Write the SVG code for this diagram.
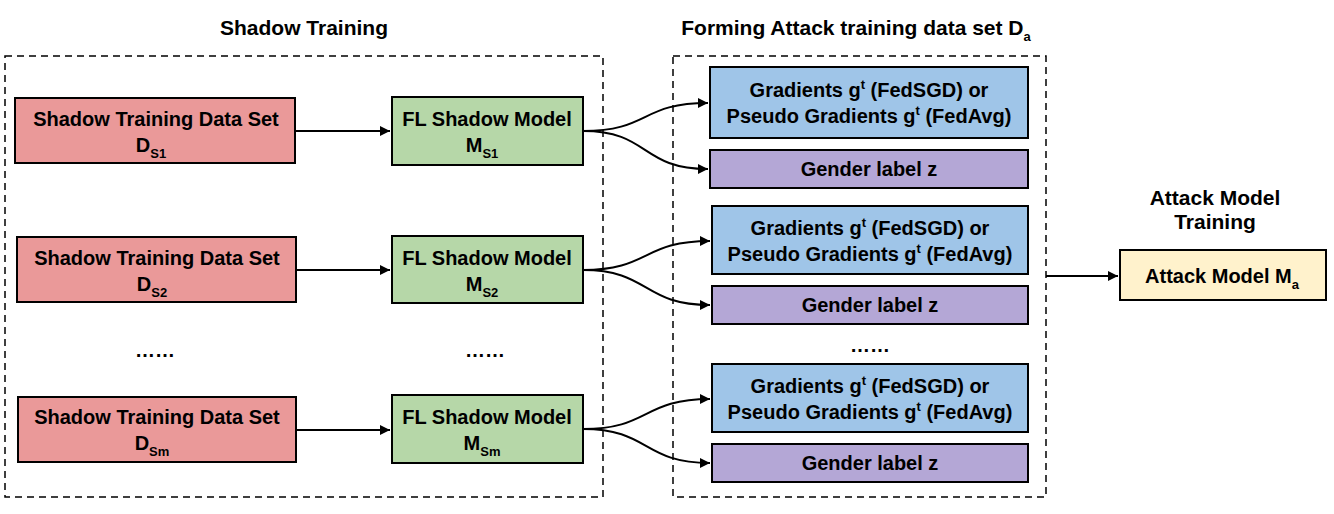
<svg xmlns="http://www.w3.org/2000/svg" width="1334" height="514" viewBox="0 0 1334 514">
<style>
text{font-family:"Liberation Sans",Arial,sans-serif;font-weight:bold;font-size:20px;fill:#000;text-anchor:middle}
.t{font-size:21px}
.sub{font-size:13px}
.box{stroke:#000;stroke-width:2}
.dash{fill:none;stroke:#000;stroke-width:1.5;stroke-dasharray:7,5}
.red{fill:#ea9999}.green{fill:#b6d7a8}.blue{fill:#9fc5e8}.purple{fill:#b4a7d6}.yellow{fill:#fff2cc}
.c{fill:none;stroke:#000;stroke-width:2}
</style>
<defs>
<marker id="ah" viewBox="0 0 10 10" refX="10" refY="5" markerWidth="5" markerHeight="5" orient="auto" markerUnits="strokeWidth">
<path d="M0,0L10,5L0,10z" fill="#000"/>
</marker>
</defs>
<g id="titles">
<text class="t" x="304" y="35">Shadow Training</text>
<text class="t" x="856" y="35">Forming Attack training data set D<tspan class="sub" dy="6">a</tspan></text>
<text class="t" x="1215" y="205">Attack Model</text>
<text class="t" x="1215" y="229">Training</text>
</g>
<g id="shadow-group"><rect class="dash" x="5" y="56" width="598" height="441"/></g>
<g id="attack-data-group"><rect class="dash" x="673" y="56" width="373" height="441"/></g>
<g id="ds1"><rect class="box red" x="15" y="98" width="280" height="65"/>
<text x="156" y="126">Shadow Training Data Set</text><text x="151" y="152">D<tspan class="sub" dy="6">S1</tspan></text></g>
<g id="ms1"><rect class="box green" x="392" y="97" width="191" height="68"/>
<text x="487" y="126">FL Shadow Model</text><text x="482" y="152">M<tspan class="sub" dy="6">S1</tspan></text></g>
<g id="ds2"><rect class="box red" x="17" y="237" width="279" height="65"/>
<text x="157" y="265">Shadow Training Data Set</text><text x="152" y="291">D<tspan class="sub" dy="6">S2</tspan></text></g>
<g id="ms2"><rect class="box green" x="392" y="236" width="191" height="67"/>
<text x="487" y="265">FL Shadow Model</text><text x="482" y="291">M<tspan class="sub" dy="6">S2</tspan></text></g>
<g id="ds3"><rect class="box red" x="18" y="397" width="278" height="65"/>
<text x="157" y="424">Shadow Training Data Set</text><text x="152" y="450">D<tspan class="sub" dy="6">Sm</tspan></text></g>
<g id="ms3"><rect class="box green" x="392" y="395" width="191" height="68"/>
<text x="487" y="424">FL Shadow Model</text><text x="482" y="450">M<tspan class="sub" dy="6">Sm</tspan></text></g>
<g id="dots"><text x="155" y="357">……</text><text x="485" y="357">……</text><text x="870" y="352">……</text></g>
<g id="g1"><rect class="box blue" x="710" y="67" width="318" height="71"/>
<text x="869" y="97">Gradients g<tspan class="sub" dy="-8">t</tspan><tspan dy="8"> (FedSGD) or</tspan></text>
<text x="869" y="123">Pseudo Gradients g<tspan class="sub" dy="-8">t</tspan><tspan dy="8"> (FedAvg)</tspan></text></g>
<g id="z1"><rect class="box purple" x="710" y="150" width="318" height="38"/><text x="869" y="176">Gender label z</text></g>
<g id="g2"><rect class="box blue" x="712" y="206" width="316" height="68"/>
<text x="870" y="235">Gradients g<tspan class="sub" dy="-8">t</tspan><tspan dy="8"> (FedSGD) or</tspan></text>
<text x="870" y="261">Pseudo Gradients g<tspan class="sub" dy="-8">t</tspan><tspan dy="8"> (FedAvg)</tspan></text></g>
<g id="z2"><rect class="box purple" x="712" y="286" width="316" height="38"/><text x="870" y="312">Gender label z</text></g>
<g id="g3"><rect class="box blue" x="712" y="364" width="316" height="68"/>
<text x="870" y="393">Gradients g<tspan class="sub" dy="-8">t</tspan><tspan dy="8"> (FedSGD) or</tspan></text>
<text x="870" y="419">Pseudo Gradients g<tspan class="sub" dy="-8">t</tspan><tspan dy="8"> (FedAvg)</tspan></text></g>
<g id="z3"><rect class="box purple" x="712" y="444" width="316" height="38"/><text x="870" y="470">Gender label z</text></g>
<g id="attack"><rect class="box yellow" x="1120" y="250" width="206" height="50"/>
<text x="1222" y="283">Attack Model M<tspan class="sub" dy="6">a</tspan></text></g>
<g id="connectors">
<path class="c" marker-end="url(#ah)" d="M295,131H390"/>
<path class="c" marker-end="url(#ah)" d="M296,270H390"/>
<path class="c" marker-end="url(#ah)" d="M296,430H390"/>
<path class="c" marker-end="url(#ah)" d="M583,131C650,131 640,103 708,103"/>
<path class="c" marker-end="url(#ah)" d="M583,131C650,131 640,169 708,169"/>
<path class="c" marker-end="url(#ah)" d="M583,270C650,270 642,241 710,241"/>
<path class="c" marker-end="url(#ah)" d="M583,270C650,270 642,305 710,305"/>
<path class="c" marker-end="url(#ah)" d="M583,429C650,429 642,399 710,399"/>
<path class="c" marker-end="url(#ah)" d="M583,429C650,429 642,463 710,463"/>
<path class="c" marker-end="url(#ah)" d="M1046,276H1118"/>
</g>
</svg>
